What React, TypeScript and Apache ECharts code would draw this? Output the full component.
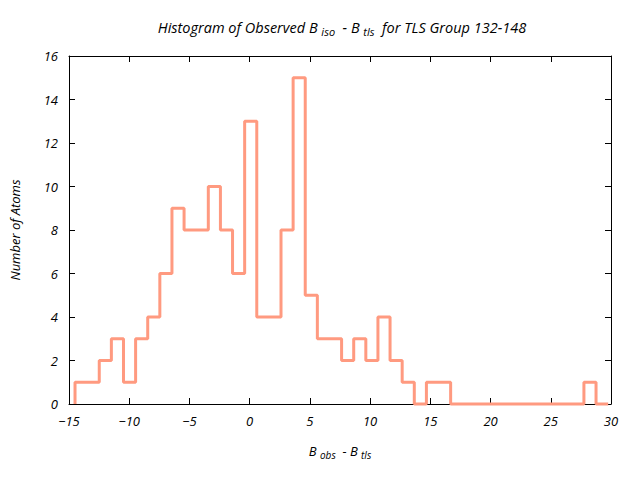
import React, { useEffect, useRef } from "react";
import * as echarts from "echarts";

// Histogram bins: first bin's left edge and bin width (in B units)
const binStart = -14.5;
const binWidth = 1.006;
// Counts per bin (bins from left to right)
const counts = [
  1, 1, 2, 3, 1, 3, 4, 6, 9, 8, 8, 10, 8, 6, 13, 4, 4, 8, 15, 5,
  3, 3, 2, 3, 2, 4, 2, 1, 0, 1, 1, 0, 0, 0, 0, 0, 0, 0, 0, 0, 0, 0, 1, 0,
];
const xTicks = [-15, -10, -5, 0, 5, 10, 15, 20, 25, 30];
const yTicks = [0, 2, 4, 6, 8, 10, 12, 14, 16];

const FONT = "Open Sans";

export default function App() {
  const ref = useRef<HTMLDivElement>(null);
  useEffect(() => {
    if (!ref.current) return;
    const chart = echarts.init(ref.current, undefined, { renderer: "svg" });
    const pts: [number, number][] = [[binStart, 0]];
    counts.forEach((c, i) => {
      const l = binStart + i * binWidth;
      pts.push([l, c]);
      pts.push([l + binWidth, c]);
    });
    const axisCommon = {
      type: "value" as const,
      axisLine: { show: true, onZero: false, lineStyle: { color: "#000", width: 1 } },
      axisTick: { show: true, inside: true, length: 6, lineStyle: { color: "#000" } },
      splitLine: { show: false },
    };
    const labelStyle = {
      color: "#000",
      fontFamily: FONT,
      fontStyle: "italic" as const,
      fontSize: 13,
    };
    const sub = { fontFamily: FONT, fontStyle: "italic", fontSize: 10, padding: [8, 0, 0, 0], color: "#000" };
    const subT = { fontFamily: FONT, fontStyle: "italic", fontSize: 11, padding: [8, 0, 0, 0], color: "#000" };
    chart.setOption({
      animation: false,
      backgroundColor: "#fff",
      title: {
        text: "Histogram of Observed B {sub|iso}  - B {sub|tls}  for TLS Group 132-148",
        left: 337,
        textAlign: "center",
        top: 13,
        textStyle: { ...labelStyle, fontSize: 14.5, fontWeight: "normal", rich: { sub: subT } },
      },
      grid: { left: 67, right: 29, top: 56, bottom: 76, containLabel: false },
      xAxis: [
        {
          ...axisCommon,
          min: -15,
          max: 30,
          interval: 5,
          position: "bottom",
          axisLabel: { ...labelStyle, margin: 10, formatter: (v: number) => (xTicks.includes(v) ? String(v).replace("-", "\u2212") : "") },
          name: "B {sub|obs}  - B {sub|tls}",
          nameLocation: "middle",
          nameGap: 38,
          nameTextStyle: { ...labelStyle, rich: { sub } },
        },
        { ...axisCommon, min: -15, max: 30, interval: 5, position: "top", axisLabel: { show: false } },
      ],
      yAxis: [
        {
          ...axisCommon,
          min: 0,
          max: 16,
          interval: 2,
          position: "left",
          axisLabel: { ...labelStyle, margin: 11, formatter: (v: number) => (yTicks.includes(v) ? String(v) : "") },
          name: "Number of Atoms",
          nameLocation: "middle",
          nameGap: 48,
          nameTextStyle: labelStyle,
        },
        { ...axisCommon, min: 0, max: 16, interval: 2, position: "right", axisLabel: { show: false } },
      ],
      series: [
        {
          type: "line",
          data: pts,
          showSymbol: false,
          clip: false,
          lineStyle: { color: "#FF9A80", width: 3 },
          z: 5,
        },
      ],
    });
    return () => chart.dispose();
  }, []);
  return <div ref={ref} style={{ width: 640, height: 480, marginLeft: -8, marginTop: -8 }} />;
}
